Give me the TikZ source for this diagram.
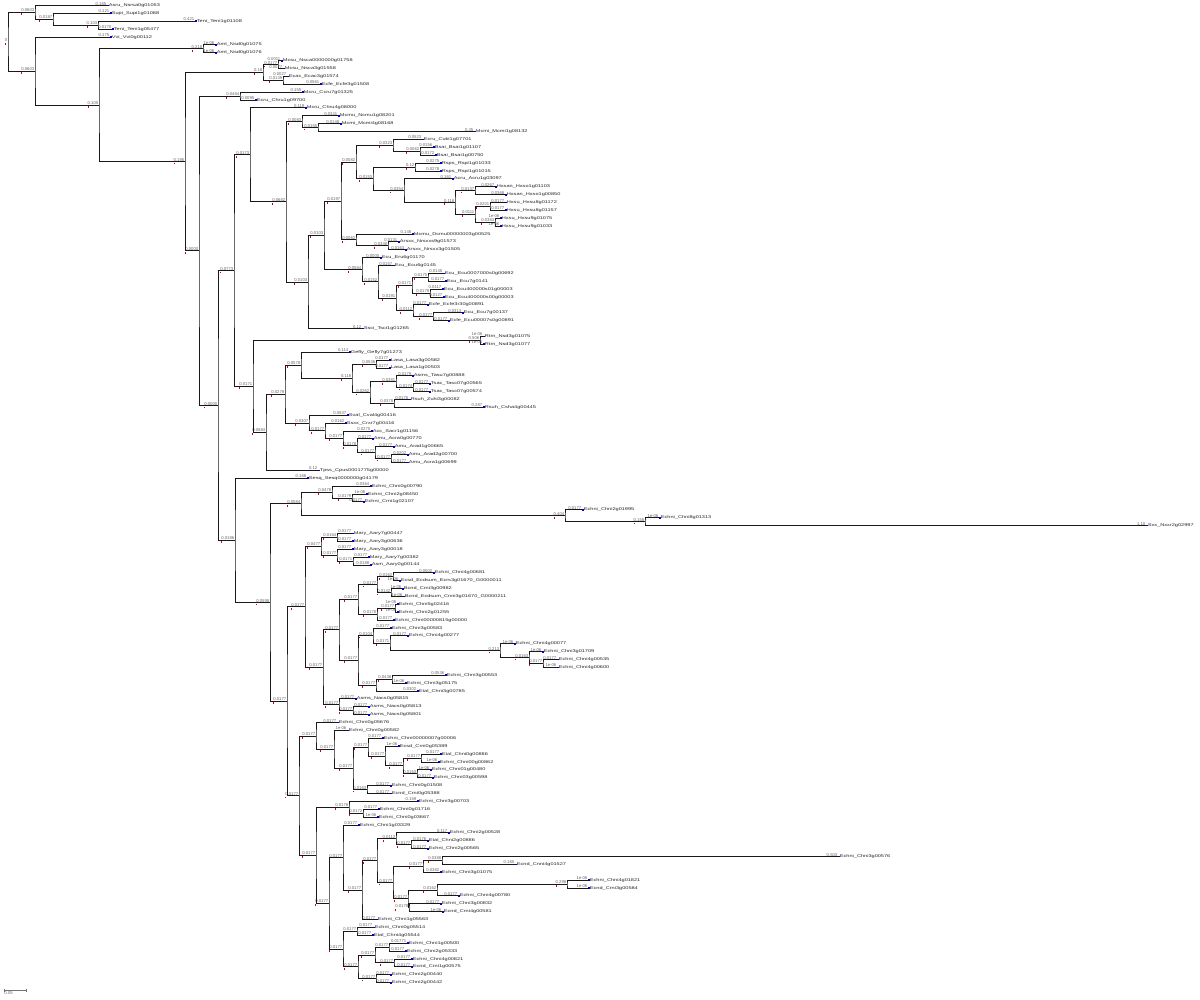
\documentclass[tikz,border=0pt]{standalone}
\usepackage{fontspec}
\newfontfamily\tf{Liberation Sans}
\usetikzlibrary{calc}
\pgfdeclarelayer{bg}
\pgfsetlayers{bg,main}
\tikzset{
 ln/.style={draw=black!90, line width=0.9pt},
 shd/.style={draw=black!30, line width=1.8pt},
 bl/.style={anchor=south east, inner sep=0.25pt, font=\tf\fontsize{4.2}{4.2}\selectfont, text=black!60, xshift=-0.3pt},
 lname/.style={anchor=west, inner sep=0.3pt, font=\tf\fontsize{5.6}{5.6}\selectfont, text=black!85},
 mk/.style={fill=red!85!black},
 dot/.style={fill=blue!80!black},
}
\newcommand\TN[5]{%
 \path let \p1=($(#3)!0.5!(#4)$) in coordinate (#1) at (#2pt,\y1);
 \begin{pgfonlayer}{bg}\draw[shd] ([shift={(0.5,0.8)}]#3) -| ([shift={(0.5,0.8)}]#1) |- ([shift={(0.5,0.8)}]#4);\end{pgfonlayer}
 \draw[ln] (#3) -| (#1) |- (#4);
 \node[bl] (t-#1) at (#1) {#5};
 \fill[mk] ([shift={(0.3,1.0)}]t-#1.south west) rectangle +(0.9,1.8);
}
\newcommand\Lf[4]{%
 \coordinate (L#1) at (#2,{5.5+7.88*#1});
 \fill[dot] ([shift={(0,-0.9)}]L#1) rectangle +(1.6,1.8);
 \node[lname] at ([xshift=1.4pt]L#1) {\scalebox{1}[0.72]{#4}};
 \node[bl] at (L#1) {#3};
}
\begin{document}
\begin{tikzpicture}[x=1pt,y=-1pt]
\fill[white] (0,0) rectangle (1200,1000);
\useasboundingbox (0,0) rectangle (1200,1000);
% ---------------- leaves
\Lf{0}{107}{0.165}{Asru\_Nsrsa0g01053}
\Lf{1}{110}{0.121}{Supi\_Supi1g01088}
\Lf{2}{195}{0.421}{Teni\_Teni1g01108}
\Lf{3}{112}{0.0170}{Teni\_Teni1g05477}
\Lf{4}{110}{0.175}{Vvi\_Vvi0g00112}
\Lf{5}{215}{1e-06}{Amt\_Nsd0g01075}
\Lf{6}{215}{1e-06}{Amt\_Nsd0g01076}
\Lf{7}{281}{0.0011}{Mcsu\_Nsca0000000g01758}
\Lf{8}{283}{0.0077}{Mcsu\_Nsca3g01558}
\Lf{9}{287}{0.0027}{Ecac\_Ecac3g01574}
\Lf{10}{320}{0.0561}{Ecfe\_Ecfe3g01508}
\Lf{11}{302}{0.155}{Mcru\_Ccru7g01325}
\Lf{12}{255}{0.0095}{Ecru\_Chru1g09700}
\Lf{13}{305}{0.119}{Mcru\_Chru4g08000}
\Lf{14}{338}{0.0341}{Mcmu\_Ncmu1g08201}
\Lf{15}{340}{0.0148}{Mcmi\_Mcmi4g08168}
\Lf{16}{474}{0.35}{Mcmi\_Mcmi1g08132}
\Lf{17}{422}{0.0523}{Ecru\_Cuki1g07701}
\Lf{18}{433}{0.0156}{Bsai\_Bsai1g01107}
\Lf{19}{435}{0.0172}{Bsai\_Bsai1g00750}
\Lf{20}{440}{0.0275}{Rsps\_Rspi1g01033}
\Lf{21}{440}{0.0278}{Rsps\_Rspi1g01015}
\Lf{22}{452}{0.161}{Acru\_Acru1g03097}
\Lf{23}{495}{0.0267}{Hxsan\_Hxso1g01103}
\Lf{24}{505}{0.0368}{Hxsan\_Hxso1g00850}
\Lf{25}{505}{0.0177}{Hxsu\_Hxsu8g01172}
\Lf{26}{505}{0.0177}{Hxsu\_Hxsu8g01157}
\Lf{27}{500}{1e-06}{Hxsu\_Hxsu9g01075}
\Lf{28}{500}{1e-06}{Hxsu\_Hxsu9g01033}
\Lf{29}{412}{0.148}{Mcmu\_Dcmu00000003g00525}
\Lf{30}{398}{0.0131}{Arsxx\_Nrsxxs9g01573}
\Lf{31}{405}{0.0163}{Arsxx\_Nrsxx3g01505}
\Lf{32}{380}{0.0000}{Ecu\_Eru6g01170}
\Lf{33}{393}{0.0157}{Ecu\_Ecu6g0145}
\Lf{34}{443}{0.0145}{Ecu\_Ecu0007000s0g00692}
\Lf{35}{445}{0.0177}{Ecu\_Ecu7g0141}
\Lf{36}{442}{0.0117}{Ecu\_Ecu400000s01g00003}
\Lf{37}{443}{0.0127}{Ecu\_Ecu400000s00g00003}
\Lf{38}{427}{0.0177}{Ecfe\_Ecfe3r30g00891}
\Lf{39}{462}{0.0313}{Ecu\_Ecu7g00137}
\Lf{40}{448}{0.0177}{Ecfe\_Ecu00007s0g00891}
\Lf{41}{362}{0.12}{Ssci\_Tsci1g01265}
\Lf{42}{483}{1e-06}{Rtrn\_Nsd3g01075}
\Lf{43}{483}{1e-06}{Rtrn\_Nsd3g01077}
\Lf{44}{349}{0.114}{Gefly\_Gefly7g01273}
\Lf{45}{389}{0.0177}{Lasa\_Lasa3g00582}
\Lf{46}{389}{0.0177}{Lasa\_Lasa1g00503}
\Lf{47}{412}{0.0179}{Asms\_Tasu7g00888}
\Lf{48}{429}{0.0177}{Tsac\_Tasc07g00565}
\Lf{49}{429}{0.0177}{Tsac\_Tasc07g00574}
\Lf{50}{409}{0.0176}{Rsuh\_Zuhi3g00082}
\Lf{51}{483}{0.287}{Rsuh\_Csha4g00445}
\Lf{52}{347}{0.0537}{Sval\_Cval4g00416}
\Lf{53}{345}{0.0162}{Ssxx\_Crxr7g00416}
\Lf{54}{371}{0.0275}{Acc\_Sacr1g01156}
\Lf{55}{372}{0.0177}{Amu\_Acra0g00770}
\Lf{56}{393}{0.0177}{Amu\_Arad1g00665}
\Lf{57}{407}{0.0202}{Amu\_Arad2g00700}
\Lf{58}{407}{0.0177}{Amu\_Acra1g00699}
\Lf{59}{318}{0.12}{Tpss\_Cpus0001775g00000}
\Lf{60}{307}{0.168}{Sesq\_Sesq0000000g04179}
\Lf{61}{370}{0.0364}{Echni\_Chni0g00790}
\Lf{62}{366}{1e-06}{Echni\_Chni2g08450}
\Lf{63}{363}{0.0177}{Echni\_Crni1g02107}
\Lf{64}{582}{0.0177}{Echni\_Chni2g01995}
\Lf{65}{659}{1e-06}{Echni\_Chni8g01313}
\Lf{66}{1146}{1.10}{Sxx\_Nxxr2g02997}
\Lf{67}{352}{0.0177}{Mary\_Aary7g00447}
\Lf{68}{352}{0.0177}{Mary\_Aary3g00636}
\Lf{69}{352}{0.0177}{Mary\_Aary3g00018}
\Lf{70}{368}{0.0177}{Mary\_Aary7g00382}
\Lf{71}{370}{0.0188}{Asm\_Aary0g00144}
\Lf{72}{433}{0.0502}{Echni\_Chni4g00681}
\Lf{73}{399}{1e-06}{Ecsd\_Ecdsum\_Ecrs3g01670\_G0000011}
\Lf{74}{402}{1e-06}{Bcnd\_Crni3g00982}
\Lf{75}{403}{1e-06}{Bcnd\_Ecdsum\_Cnni3g01670\_G0000211}
\Lf{76}{397}{1e-06}{Echni\_Chni5g02416}
\Lf{77}{397}{1e-06}{Echni\_Chni2g01255}
\Lf{78}{393}{0.0177}{Echni\_Chni00000815g00000}
\Lf{79}{390}{0.0177}{Echni\_Chni3g00583}
\Lf{80}{407}{0.0177}{Echni\_Chni4g00277}
\Lf{81}{514}{1e-06}{Echni\_Chni4g00077}
\Lf{82}{542}{1e-06}{Echni\_Chni3g01709}
\Lf{83}{557}{0.0177}{Echni\_Chni4g00535}
\Lf{84}{557}{1e-06}{Echni\_Chni4g00600}
\Lf{85}{445}{0.0536}{Echni\_Chni3g00553}
\Lf{86}{405}{1e-06}{Echni\_Chni3g05175}
\Lf{87}{417}{0.0302}{Etal\_Chni3g00785}
\Lf{88}{355}{0.0177}{Asms\_Nacs0g05815}
\Lf{89}{368}{0.0177}{Asms\_Nacs0g05813}
\Lf{90}{368}{0.0177}{Asms\_Nacs0g05801}
\Lf{91}{337}{0.0177}{Echni\_Chni0g05676}
\Lf{92}{347}{1e-06}{Echni\_Chni0g00582}
\Lf{93}{382}{0.0177}{Echni\_Chni00000007g00006}
\Lf{94}{398}{1e-06}{Ecsd\_Crni0g05389}
\Lf{95}{440}{0.0177}{Etal\_Chni0g00886}
\Lf{96}{438}{1e-06}{Echni\_Chni00g00862}
\Lf{97}{430}{1e-06}{Echni\_Chni01g00480}
\Lf{98}{432}{0.0177}{Echni\_Chni03g00598}
\Lf{99}{390}{0.0177}{Echni\_Chni0g01508}
\Lf{100}{390}{0.0177}{Ecnd\_Crni0g05388}
\Lf{101}{417}{0.159}{Echni\_Chni3g00703}
\Lf{102}{378}{0.0177}{Echni\_Chni0g01716}
\Lf{103}{377}{1e-06}{Echni\_Chni0g03667}
\Lf{104}{358}{0.0177}{Echni\_Chni1g03329}
\Lf{105}{448}{0.117}{Echni\_Chni2g00528}
\Lf{106}{427}{0.0176}{Etal\_Chni2g00886}
\Lf{107}{427}{0.0177}{Echni\_Chni2g00565}
\Lf{108}{838}{0.503}{Echni\_Chni3g00576}
\Lf{109}{515}{0.185}{Ecnd\_Cnni4g01527}
\Lf{110}{440}{0.0382}{Echni\_Chni3g01075}
\Lf{111}{588}{1e-06}{Echni\_Chni4g01821}
\Lf{112}{588}{1e-06}{Ecnd\_Crni3g00584}
\Lf{113}{458}{0.0177}{Echni\_Chni4g00780}
\Lf{114}{440}{0.0177}{Echni\_Chni3g00832}
\Lf{115}{442}{1e-06}{Ecnd\_Crni4g00581}
\Lf{116}{376}{0.0177}{Echni\_Chni1g05563}
\Lf{117}{373}{0.0177}{Echni\_Chni0g05514}
\Lf{118}{372}{0.0177}{Etal\_Chni4g05544}
\Lf{119}{407}{0.01771}{Echni\_Chni1g00500}
\Lf{120}{405}{0.0177}{Echni\_Chni2g05333}
\Lf{121}{411}{0.0177}{Echni\_Chni4g00821}
\Lf{122}{411}{0.0177}{Ecnd\_Crni1g00575}
\Lf{123}{390}{0.0177}{Echni\_Chni2g00440}
\Lf{124}{390}{0.0177}{Echni\_Chni2g00442}
% ---------------- internal nodes (children before parents)
\TN{a3}{98}{L2}{L3}{0.103}
\TN{a2}{53}{L1}{a3}{0.0187}
\TN{a1}{35}{L0}{a2}{0.0603}
\TN{b1}{203}{L5}{L6}{0.218}
\TN{c1}{278}{L7}{L8}{0.0177}
\TN{c2}{283}{L9}{L10}{0.0139}
\TN{c3}{263}{c1}{c2}{0.18}
\TN{d1}{240}{L11}{L12}{0.0484}
\TN{e2}{318}{L15}{L16}{0.0155}
\TN{e1}{302}{L14}{e2}{0.0083}
\TN{f1}{420}{L18}{L19}{0.0062}
\TN{f2}{393}{L17}{f1}{0.0323}
\TN{f3}{415}{L20}{L21}{0.12}
\TN{f4}{475}{L23}{L24}{0.0137}
\TN{f5}{490}{L25}{L26}{0.0201}
\TN{f6}{495}{L27}{L28}{0.0383}
\TN{f7}{475}{f5}{f6}{0.0111}
\TN{f8}{455}{f4}{f7}{0.118}
\TN{f9}{404}{L22}{f8}{0.0354}
\TN{f10}{373}{f3}{f9}{0.0153}
\TN{f11}{356}{f2}{f10}{0.0082}
\TN{g1}{388}{L30}{L31}{0.0348}
\TN{g2}{356}{L29}{g1}{0.0062}
\TN{f12}{341}{f11}{g2}{0.0197}
\TN{h1}{428}{L34}{L35}{0.0175}
\TN{h2}{430}{L36}{L37}{0.0179}
\TN{h3}{412}{h1}{h2}{0.0171}
\TN{h4}{433}{L39}{L40}{0.0177}
\TN{h5}{413}{L38}{h4}{0.0112}
\TN{h6}{396}{h3}{h5}{0.0191}
\TN{h7}{378}{L33}{h6}{0.0152}
\TN{h8}{362}{L32}{h7}{0.0564}
\TN{i1}{324}{f12}{h8}{0.0103}
\TN{i2}{308}{i1}{L41}{0.0103}
\TN{i3}{286}{e1}{i2}{0.0682}
\TN{i4}{250}{L13}{i3}{0.0173}
\TN{j1}{480}{L42}{L43}{0.506}
\TN{j2}{376}{L45}{L46}{0.0536}
\TN{j3}{413}{L48}{L49}{0.0174}
\TN{j4}{396}{L47}{j3}{0.0381}
\TN{j5}{394}{L50}{L51}{0.0378}
\TN{j6}{370}{j4}{j5}{0.0262}
\TN{j7}{352}{j2}{j6}{0.118}
\TN{j8}{301}{L44}{j7}{0.0578}
\TN{k1}{391}{L57}{L58}{0.0177}
\TN{k2}{375}{L56}{k1}{0.0177}
\TN{k3}{357}{L55}{k2}{0.0178}
\TN{k4}{343}{L54}{k3}{0.0177}
\TN{k5}{325}{L53}{k4}{0.0177}
\TN{k6}{309}{L52}{k5}{0.0307}
\TN{k7}{285}{j8}{k6}{0.0279}
\TN{k8}{266}{k7}{L59}{0.0884}
\TN{k9}{253}{j1}{k8}{0.0171}
\TN{m1}{234}{i4}{k9}{0.0773}
\TN{n1}{352}{L62}{L63}{0.0179}
\TN{n2}{332}{L61}{n1}{0.0478}
\TN{n3}{645}{L65}{L66}{0.156}
\TN{n4}{565}{L64}{n3}{0.404}
\TN{n5}{301}{n2}{n4}{0.0584}
\TN{p1}{337}{L67}{L68}{0.0164}
\TN{p2}{353}{L70}{L71}{0.0171}
\TN{p3}{337}{L69}{p2}{0.0177}
\TN{p4}{321}{p1}{p3}{0.0477}
\TN{q1}{393}{L72}{L73}{0.0162}
\TN{q2}{391}{L74}{L75}{0.0142}
\TN{q3}{377}{q1}{q2}{0.0177}
\TN{q4}{395}{L76}{L77}{0.0177}
\TN{q5}{377}{q4}{L78}{0.0178}
\TN{q6}{358}{q3}{q5}{0.0177}
\TN{r1}{543}{L83}{L84}{0.0177}
\TN{r2}{529}{L82}{r1}{0.0163}
\TN{r3}{500}{L81}{r2}{0.213}
\TN{r4}{390}{L80}{r3}{0.0171}
\TN{r5}{373}{L79}{r4}{0.0104}
\TN{r6}{392}{L85}{L86}{0.0438}
\TN{r7}{376}{r6}{L87}{0.0177}
\TN{r8}{358}{r5}{r7}{0.0177}
\TN{s1}{339}{q6}{r8}{0.0177}
\TN{s2}{353}{L89}{L90}{0.0177}
\TN{s3}{339}{L88}{s2}{0.0177}
\TN{s4}{323}{s1}{s3}{0.0177}
\TN{s5}{305}{p4}{s4}{0.0177}
\TN{t1}{421}{L95}{L96}{0.0177}
\TN{t2}{417}{L97}{L98}{0.0163}
\TN{t3}{403}{t1}{t2}{0.0177}
\TN{t4}{385}{L94}{t3}{0.0177}
\TN{t5}{368}{L93}{t4}{0.0177}
\TN{t6}{367}{L99}{L100}{0.0163}
\TN{t7}{353}{t5}{t6}{0.0177}
\TN{t8}{334}{L92}{t7}{0.0177}
\TN{t9}{316}{L91}{t8}{0.0177}
\TN{u1}{363}{L102}{L103}{0.0172}
\TN{u2}{349}{L101}{u1}{0.0176}
\TN{v1}{411}{L106}{L107}{0.0177}
\TN{v2}{396}{L105}{v1}{0.0112}
\TN{v3}{442}{L108}{L109}{0.0388}
\TN{v4}{423}{v3}{L110}{0.0177}
\TN{v5}{567}{L111}{L112}{0.298}
\TN{v6}{437}{v5}{L113}{0.0162}
\TN{v7}{409}{L114}{L115}{0.0178}
\TN{v8}{408}{v6}{v7}{0.0177}
\TN{v9}{393}{v4}{v8}{0.0177}
\TN{v10}{377}{v2}{v9}{0.0177}
\TN{v11}{362}{v10}{L116}{0.0177}
\TN{v12}{343}{L104}{v11}{0.0177}
\TN{w1}{357}{L117}{L118}{0.0177}
\TN{w2}{389}{L119}{L120}{0.0177}
\TN{w3}{394}{L121}{L122}{0.0177}
\TN{w4}{375}{w2}{w3}{0.0177}
\TN{w5}{376}{L123}{L124}{0.0177}
\TN{w6}{358}{w4}{w5}{0.0177}
\TN{w7}{343}{w1}{w6}{0.0177}
\TN{x1}{329}{v12}{w7}{0.0177}
\TN{x2}{316}{u2}{x1}{0.0177}
\TN{x3}{299}{t9}{x2}{0.0177}
\TN{x4}{287}{s5}{x3}{0.0177}
\TN{x5}{270}{n5}{x4}{0.0598}
\TN{x6}{235}{L60}{x5}{0.0186}
\TN{m2}{218}{m1}{x6}{0.0000}
\TN{m3}{199}{d1}{m2}{0.0000}
\TN{m4}{185}{c3}{m3}{0.195}
\TN{m5}{99}{b1}{m4}{0.105}
\TN{m6}{35}{L4}{m5}{0.0603}
\TN{root}{8}{a1}{m6}{0}
% ---------------- scale bar
\coordinate (sb1) at (4,990);
\coordinate (sb2) at (26,990);
\draw[black!55, line width=0.6pt] ([yshift=1.5pt]sb1) -- ([yshift=-1.5pt]sb1);
\draw[black!55, line width=0.6pt] ([yshift=1.5pt]sb2) -- ([yshift=-1.5pt]sb2);
\draw[black!55, line width=0.6pt] (sb1) -- (sb2);
\node[anchor=north west, inner sep=0.3pt, font=\tf\fontsize{4.2}{4.2}\selectfont, text=black!60] (sbl) at ([yshift=-1pt]sb1) {0.05};
\end{tikzpicture}
\end{document}
